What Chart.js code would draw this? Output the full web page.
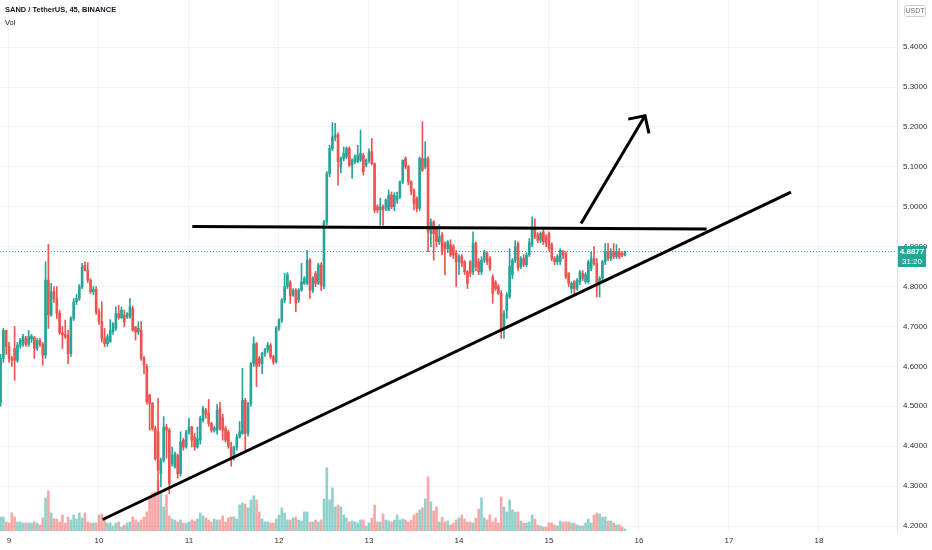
<!DOCTYPE html>
<html>
<head>
<meta charset="utf-8">
<title>SAND / TetherUS, 45, BINANCE</title>
<script src="https://cdn.jsdelivr.net/npm/chart.js@4.4.0/dist/chart.umd.min.js"></script>
<style>
  html, body { margin: 0; padding: 0; background: #fff; }
  #wrap { position: relative; width: 932px; height: 550px; }
  #title { position: absolute; left: 5px; top: 5px; font: bold 7.5px 'Liberation Sans', Arial, sans-serif; color: #131722; }
  #vol { position: absolute; left: 5px; top: 18px; font: 7.5px 'Liberation Sans', Arial, sans-serif; color: #131722; }
</style>
</head>
<body>
<div id="wrap">
  <canvas id="chart" width="932" height="550"></canvas>
  <div id="title">SAND / TetherUS, 45, BINANCE</div>
  <div id="vol">Vol</div>
</div>
<script>
// 45 minute candles, first one 3 bars before day 9
const firstCandle = 9 - 3 / 32;
const candleStep = 1 / 32;

const opens = [
  4.51,4.62,4.69,4.65,4.62,4.645,4.615,4.653,4.655,4.67,4.655,4.668,4.672,4.645,4.665,4.655,
  4.628,4.816,4.729,4.787,4.770,4.733,4.684,4.68,4.678,4.632,4.72,4.762,4.77,4.80,4.853,4.841,
  4.816,4.787,4.793,4.736,4.712,4.67,4.657,4.662,4.687,4.695,4.732,4.722,4.728,4.724,4.724,4.745,
  4.699,4.686,4.691,4.620,4.600,4.528,4.507,4.444,4.436,4.331,4.365,4.448,4.44,4.356,4.348,4.377,
  4.331,4.415,4.398,4.436,4.448,4.423,4.398,4.415,4.465,4.49,4.482,4.457,4.44,4.44,4.494,4.47,
  4.444,4.436,4.398,4.373,4.398,4.423,4.432,4.515,4.432,4.507,4.607,4.657,4.62,4.607,4.632,4.641,
  4.653,4.624,4.611,4.695,4.716,4.766,4.80,4.81,4.778,4.791,4.766,4.791,4.808,4.808,4.866,4.791,
  4.833,4.808,4.854,4.80,4.962,5.083,5.146,5.175,5.18,5.10,5.121,5.125,5.146,5.104,5.113,5.113,
  5.117,5.129,5.104,5.117,5.138,5.108,5.00,4.992,5.00,4.996,4.992,5.029,5.00,5.017,5.025,5.062,
  5.121,5.10,5.062,5.04,5.02,4.996,5.121,5.10,5.121,4.933,4.962,4.945,4.912,4.929,4.908,4.895,
  4.905,4.90,4.883,4.862,4.875,4.862,4.837,4.862,4.837,4.908,4.862,4.837,4.866,4.883,4.87,4.824,
  4.81,4.80,4.783,4.695,4.74,4.775,4.83,4.866,4.908,4.85,4.87,4.855,4.879,4.905,4.945,4.93,
  4.916,4.937,4.925,4.933,4.905,4.87,4.862,4.862,4.887,4.883,4.833,4.795,4.812,4.795,4.812,4.833,
  4.812,4.812,4.845,4.87,4.858,4.808,4.82,4.862,4.887,4.87,4.887,4.875,4.887,4.883,4.879
];
const highs = [
  4.63,4.695,4.69,4.66,4.625,4.70,4.66,4.67,4.68,4.675,4.69,4.68,4.675,4.67,4.67,4.66,
  4.862,4.906,4.808,4.80,4.80,4.74,4.70,4.716,4.69,4.725,4.77,4.78,4.805,4.858,4.862,4.86,
  4.82,4.80,4.80,4.745,4.762,4.695,4.68,4.717,4.71,4.749,4.753,4.749,4.741,4.735,4.770,4.751,
  4.70,4.712,4.712,4.625,4.605,4.53,4.51,4.45,4.52,4.37,4.474,4.455,4.445,4.398,4.385,4.38,
  4.436,4.42,4.44,4.47,4.45,4.432,4.448,4.475,4.50,4.495,4.517,4.46,4.45,4.505,4.51,4.48,
  4.45,4.44,4.41,4.40,4.43,4.462,4.595,4.52,4.51,4.61,4.674,4.66,4.625,4.635,4.645,4.66,
  4.657,4.628,4.70,4.72,4.77,4.833,4.835,4.815,4.795,4.795,4.795,4.858,4.825,4.891,4.87,4.825,
  4.838,4.858,4.86,4.966,5.088,5.154,5.211,5.209,5.185,5.125,5.150,5.150,5.15,5.12,5.13,5.154,
  5.192,5.134,5.12,5.145,5.171,5.11,5.005,5.021,5.005,5.02,5.042,5.037,5.035,5.037,5.065,5.117,
  5.125,5.104,5.065,5.045,5.025,5.125,5.213,5.163,5.125,4.97,4.965,4.95,4.955,4.935,4.912,4.915,
  4.917,4.905,4.89,4.88,4.88,4.865,4.84,4.865,4.937,4.912,4.87,4.875,4.891,4.887,4.875,4.83,
  4.815,4.805,4.79,4.74,4.785,4.895,4.87,4.915,4.912,4.875,4.88,4.885,4.92,4.975,4.97,4.935,
  4.937,4.945,4.93,4.937,4.91,4.875,4.88,4.895,4.891,4.887,4.835,4.812,4.815,4.82,4.84,4.84,
  4.835,4.866,4.887,4.90,4.87,4.825,4.866,4.908,4.908,4.895,4.908,4.905,4.895,4.887,4.889
];
const lows = [
  4.50,4.61,4.63,4.61,4.60,4.565,4.61,4.645,4.65,4.65,4.65,4.66,4.62,4.64,4.65,4.603,
  4.62,4.695,4.725,4.76,4.72,4.68,4.645,4.67,4.607,4.625,4.715,4.755,4.765,4.795,4.84,4.81,
  4.783,4.78,4.73,4.705,4.661,4.649,4.65,4.66,4.68,4.69,4.718,4.72,4.699,4.72,4.72,4.688,
  4.666,4.68,4.615,4.582,4.505,4.44,4.44,4.365,4.28,4.298,4.36,4.37,4.281,4.35,4.345,4.32,
  4.325,4.39,4.395,4.43,4.398,4.39,4.395,4.405,4.46,4.47,4.45,4.435,4.435,4.43,4.44,4.415,
  4.41,4.395,4.35,4.365,4.39,4.42,4.43,4.386,4.425,4.50,4.60,4.549,4.60,4.582,4.625,4.635,
  4.62,4.605,4.608,4.69,4.71,4.76,4.795,4.758,4.775,4.737,4.76,4.788,4.805,4.805,4.77,4.785,
  4.80,4.805,4.79,4.795,4.955,5.075,5.14,5.165,5.054,5.085,5.115,5.12,5.10,5.071,5.108,5.11,
  5.113,5.079,5.10,5.11,5.105,4.985,4.985,4.954,4.954,4.99,4.99,4.995,4.99,5.008,5.02,5.058,
  5.095,5.055,5.03,4.992,4.987,4.99,5.088,5.095,4.887,4.90,4.866,4.90,4.905,4.88,4.829,4.885,
  4.875,4.87,4.80,4.83,4.85,4.83,4.795,4.825,4.83,4.84,4.83,4.83,4.86,4.855,4.84,4.758,
  4.79,4.78,4.670,4.670,4.72,4.77,4.82,4.86,4.84,4.845,4.85,4.85,4.875,4.90,4.92,4.91,
  4.91,4.905,4.90,4.89,4.865,4.855,4.855,4.855,4.87,4.82,4.80,4.783,4.783,4.79,4.805,4.815,
  4.808,4.808,4.84,4.853,4.774,4.774,4.815,4.855,4.865,4.865,4.87,4.87,4.87,4.875,4.877
];
const closes = [
  4.62,4.69,4.65,4.62,4.615,4.615,4.653,4.666,4.675,4.655,4.675,4.676,4.645,4.665,4.655,4.628,
  4.816,4.729,4.787,4.770,4.733,4.684,4.68,4.674,4.632,4.72,4.762,4.77,4.80,4.85,4.841,4.816,
  4.787,4.793,4.736,4.712,4.67,4.657,4.674,4.691,4.707,4.732,4.722,4.741,4.711,4.732,4.749,4.691,
  4.686,4.695,4.620,4.603,4.511,4.507,4.444,4.369,4.340,4.365,4.448,4.44,4.306,4.377,4.382,4.331,
  4.411,4.398,4.436,4.448,4.415,4.398,4.419,4.47,4.494,4.48,4.457,4.44,4.445,4.49,4.444,4.44,
  4.415,4.40,4.373,4.398,4.423,4.436,4.515,4.432,4.507,4.607,4.657,4.60,4.607,4.632,4.641,4.653,
  4.624,4.611,4.695,4.716,4.766,4.80,4.83,4.778,4.791,4.758,4.791,4.812,4.82,4.866,4.791,4.82,
  4.808,4.854,4.803,4.962,5.083,5.146,5.175,5.18,5.113,5.121,5.134,5.146,5.104,5.117,5.125,5.129,
  5.134,5.088,5.117,5.138,5.108,4.991,4.992,5.00,4.992,5.017,5.029,5.00,5.029,5.025,5.062,5.117,
  5.10,5.062,5.04,5.008,4.996,5.121,5.092,5.121,4.937,4.962,4.933,4.912,4.925,4.887,4.895,4.912,
  4.879,4.879,4.862,4.875,4.858,4.837,4.808,4.833,4.908,4.849,4.837,4.866,4.887,4.862,4.845,4.783,
  4.795,4.783,4.695,4.733,4.779,4.85,4.866,4.90,4.847,4.87,4.855,4.879,4.91,4.945,4.925,4.916,
  4.933,4.912,4.908,4.895,4.870,4.862,4.875,4.891,4.879,4.824,4.808,4.808,4.795,4.816,4.837,4.82,
  4.83,4.862,4.87,4.858,4.808,4.82,4.862,4.887,4.87,4.887,4.875,4.887,4.874,4.879,4.8877
];
// volume, in 10k SAND
const volumes = [
  14,14,9,8,18,14,9,9,8,8,8,8,9,8,6,13,
  33,40,18,12,12,9,16,8,14,11,16,12,18,13,18,9,
  8,8,8,16,17,12,8,8,5,8,9,4,6,8,9,14,
  11,9,11,14,19,34,38,39,51,39,24,36,15,12,11,9,
  11,8,8,9,11,10,12,18,15,13,11,9,12,11,11,15,
  9,13,14,14,12,26,28,27,23,31,35,31,19,12,9,9,
  8,8,12,16,23,18,11,11,13,14,11,10,19,19,9,9,
  11,9,11,32,63,31,43,24,26,24,16,13,9,10,9,8,
  11,11,5,8,13,26,9,9,17,11,10,9,11,16,11,12,
  11,9,11,16,18,21,23,32,54,29,20,24,9,14,9,10,
  6,8,11,13,16,12,9,9,8,13,22,33,13,11,16,9,
  13,8,34,24,19,31,21,19,19,10,8,8,9,16,12,6,
  5,4,4,8,8,6,5,10,9,9,9,8,8,6,5,5,
  8,12,8,16,18,17,14,14,10,10,8,6,6,4,2
];

const dayTicks = [9, 10, 11, 12, 13, 14, 15, 16, 17, 18];
const priceTicks = [4.2, 4.3, 4.4, 4.5, 4.6, 4.7, 4.8, 4.9, 5.0, 5.1, 5.2, 5.3, 5.4];
const lastPrice = 4.8877;
const countdown = '31:20';

// hand drawn lines: [day, price]
const resistanceLine = [[11.037, 4.9506], [16.752, 4.9439]];
const supportLine = [[10.041, 4.2163], [17.689, 5.0366]];
const arrowShaft = [[15.356, 4.9581], [16.067, 5.2278]];
const arrowHead = [[15.881, 5.2195], [16.067, 5.2278], [16.111, 5.1837]];

// visible window
const dayMin = 8.9, dayMax = 18.867;
const priceMin = 4.1875, priceMax = 5.518;
const volPaneShare = 0.119; // tallest volume bar reaches this share of the plot

const upColor = '#26a69a';
const downColor = '#ef5350';
const fontFamily = "'Liberation Sans', Arial, sans-serif";

const times = opens.map((_, i) => firstCandle + i * candleStep);
const isUp = closes.map((c, i) => c >= opens[i]);
const candleColors = isUp.map(u => u ? upColor : downColor);
const volColors = isUp.map(u => u ? 'rgba(38,166,154,0.5)' : 'rgba(239,83,80,0.5)');

function toPoints(line) {
  return line.map(p => ({ x: p[0], y: p[1] }));
}

function drawingSet(label, line) {
  return {
    type: 'line',
    label: label,
    data: toPoints(line),
    borderColor: '#000',
    borderWidth: 3,
    borderCapStyle: 'butt',
    borderJoinStyle: 'miter',
    pointRadius: 0,
    tension: 0,
    order: 0
  };
}

// axes sit flush against the plot, no label overhang padding
function flush(scale) {
  scale.paddingTop = 0;
  scale.paddingBottom = 0;
  scale.paddingLeft = 0;
  scale.paddingRight = 0;
}

// price tag on the axis + currency badge
const priceTag = {
  id: 'priceTag',
  afterDraw(chart) {
    const ctx = chart.ctx;
    const y = chart.scales.y.getPixelForValue(lastPrice);
    const left = chart.chartArea.right + 1;
    ctx.save();
    ctx.fillStyle = upColor;
    ctx.fillRect(left, Math.round(y) - 6, 28, 21);
    ctx.fillStyle = '#fff';
    ctx.textAlign = 'center';
    ctx.textBaseline = 'middle';
    ctx.font = 'bold 8px ' + fontFamily;
    ctx.fillText(lastPrice.toFixed(4), left + 14, y);
    ctx.font = '8px ' + fontFamily;
    ctx.fillText(countdown, left + 14, y + 10);

    ctx.strokeStyle = '#c9cbd1';
    ctx.lineWidth = 1;
    ctx.beginPath();
    ctx.roundRect(904.5, 5.5, 21, 11, 2);
    ctx.stroke();
    ctx.fillStyle = '#6a6d78';
    ctx.font = '7px ' + fontFamily;
    ctx.fillText('USDT', 915, 11.5);
    ctx.restore();
  }
};

const ctx = document.getElementById('chart').getContext('2d');
new Chart(ctx, {
  type: 'bar',
  data: {
    datasets: [
      drawingSet('resistance', resistanceLine),
      drawingSet('support', supportLine),
      drawingSet('arrow', arrowShaft),
      drawingSet('arrow head', arrowHead),
      {
        type: 'bar',
        label: 'bodies',
        data: times.map((t, i) => ({ x: t, y: [opens[i], closes[i]] })),
        backgroundColor: candleColors,
        barThickness: 2,
        minBarLength: 1,
        grouped: false,
        order: 1
      },
      {
        type: 'bar',
        label: 'wicks',
        data: times.map((t, i) => ({ x: t, y: [lows[i], highs[i]] })),
        backgroundColor: candleColors,
        barThickness: 1,
        grouped: false,
        order: 2
      },
      {
        type: 'bar',
        label: 'Vol',
        data: times.map((t, i) => ({ x: t, y: volumes[i] })),
        yAxisID: 'yVol',
        backgroundColor: volColors,
        barThickness: 2,
        grouped: false,
        order: 3
      },
      {
        type: 'line',
        label: 'last',
        data: [{ x: dayMin, y: lastPrice }, { x: dayMax, y: lastPrice }],
        borderColor: upColor,
        borderWidth: 1,
        borderDash: [1, 2],
        pointRadius: 0,
        order: 4
      }
    ]
  },
  options: {
    responsive: false,
    animation: false,
    layout: { padding: 0 },
    plugins: {
      legend: { display: false },
      tooltip: { enabled: false }
    },
    scales: {
      x: {
        type: 'linear',
        min: dayMin,
        max: dayMax,
        offset: false,
        grid: { color: '#f0f3fa', drawTicks: false, offset: false },
        border: { display: false },
        afterBuildTicks: scale => { scale.ticks = dayTicks.map(v => ({ value: v })); },
        afterFit: scale => { scale.height = 19; flush(scale); },
        ticks: {
          padding: 5,
          color: '#2a2e39',
          font: { family: fontFamily, size: 8 },
          maxRotation: 0,
          callback: v => String(v)
        }
      },
      y: {
        position: 'right',
        min: priceMin,
        max: priceMax,
        grid: { color: '#f0f3fa', drawTicks: false },
        border: { display: true, color: '#e0e3eb' },
        afterBuildTicks: scale => { scale.ticks = priceTicks.map(v => ({ value: v })); },
        afterFit: scale => { scale.width = 35; flush(scale); },
        ticks: {
          padding: 6,
          color: '#2a2e39',
          font: { family: fontFamily, size: 8 },
          callback: v => v.toFixed(4)
        }
      },
      yVol: {
        display: false,
        min: 0,
        max: Math.max(...volumes) / volPaneShare
      }
    }
  },
  plugins: [priceTag]
});
</script>
</body>
</html>
